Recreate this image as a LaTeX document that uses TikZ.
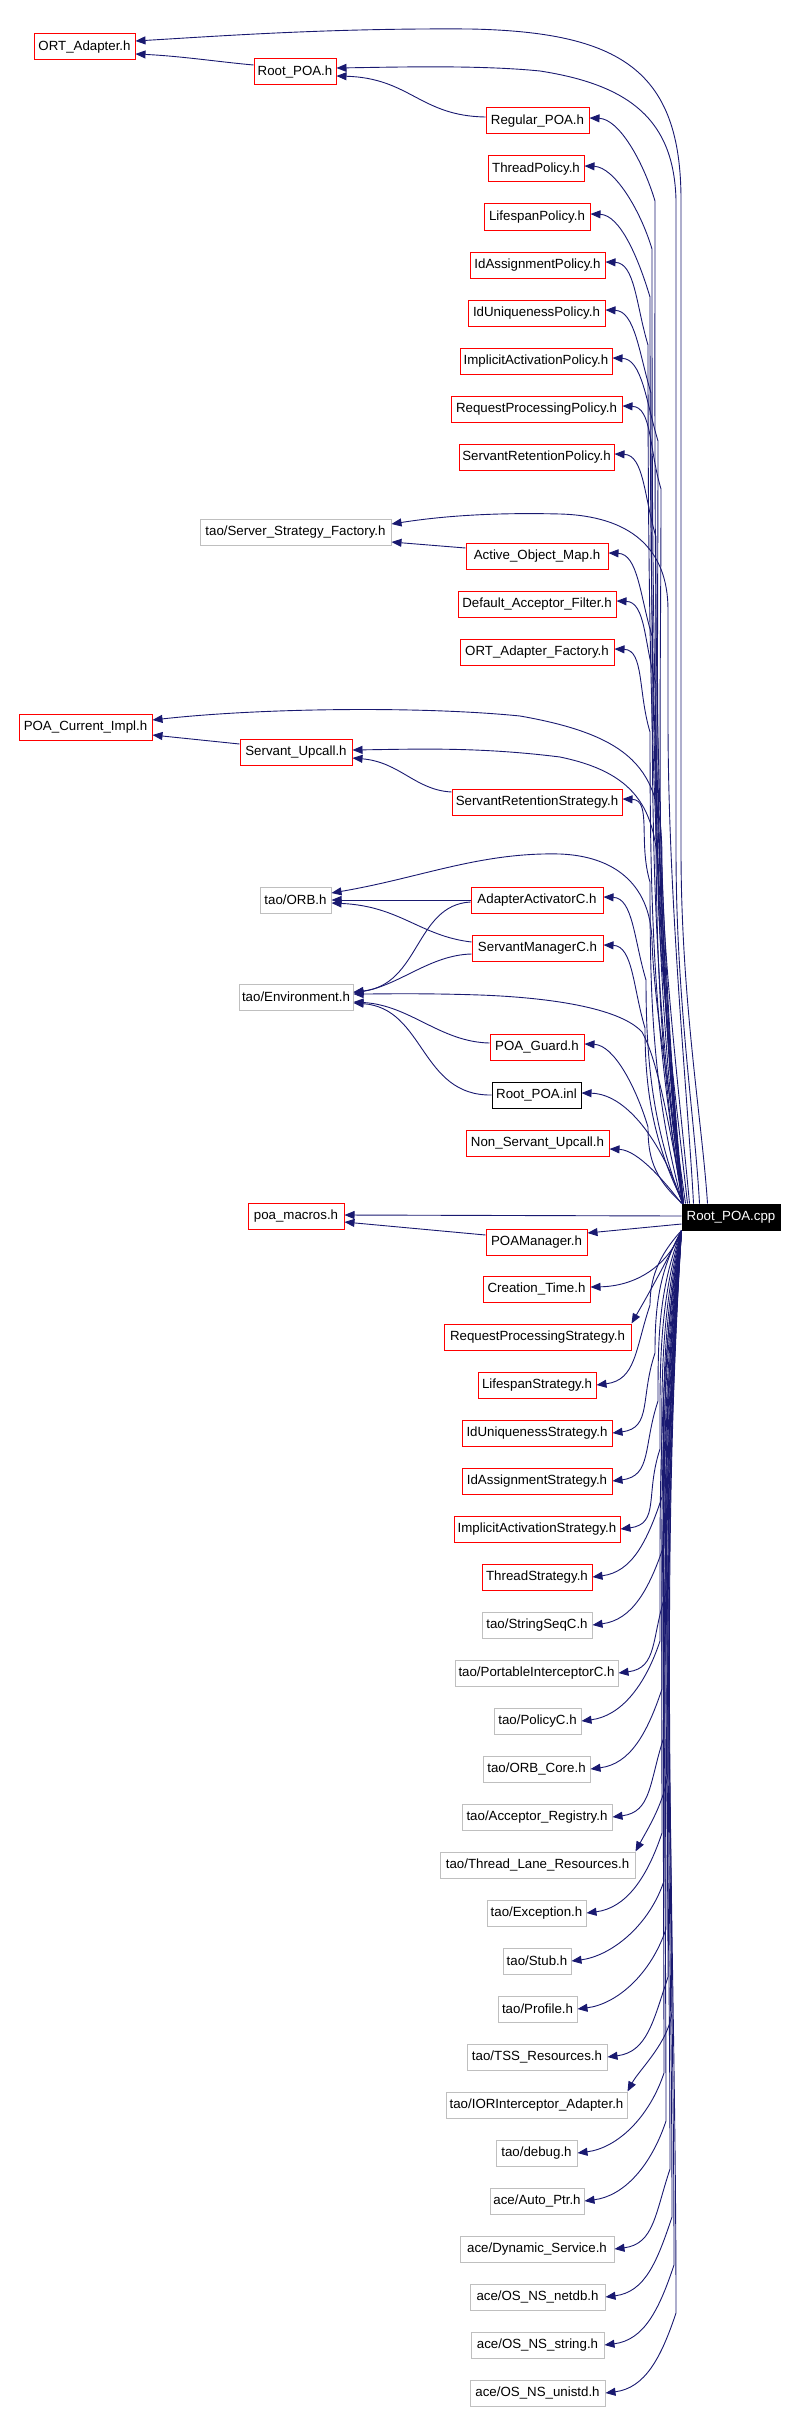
\documentclass[tikz,border=0pt]{standalone}
\usepackage{fontspec}
\setmainfont{Liberation Sans}
\usetikzlibrary{arrows.meta,calc}
\definecolor{edgeblue}{HTML}{191970}
\definecolor{boxgray}{HTML}{BFBFBF}
\tikzset{
 box/.style={draw, line width=1pt, minimum height=26pt, inner xsep=2pt, inner ysep=0pt, font=\fontsize{13.3}{15}\selectfont},
 rbox/.style={box, draw=red},
 gbox/.style={box, draw=boxgray},
 kbox/.style={box, draw=black},
 dep/.style={draw=edgeblue, line width=0.9pt, -{Triangle[length=10pt,width=8pt]}},
}
% upper right node: node, start xshift on cpp top, bend x, node y, node east x
\newcommand\upr[5]{%
 \pgfmathsetmacro\ua{#4+80}%
 \pgfmathsetmacro\ub{0.35*(1204-#4-80)}%
 \draw[dep] ([xshift=#2pt]cpp.north west) .. controls ({651+#2},{1204-\ub}) and (#3,{\ua+\ub}) .. (#3,\ua)
 .. controls ({#3-12},{#4+40}) and ({#5+30},{#4-2}) .. ([yshift=3pt]#1.east);}
% lower right node: node, bend x, node y, node east x
\newcommand\lowr[4]{%
 \pgfmathsetmacro\ua{#3-80}%
 \pgfmathsetmacro\ub{0.35*(#3-80-1230)}%
 \draw[dep] (cpp.south west) .. controls (658,{1230+\ub}) and (#2,{\ua-\ub}) .. (#2,\ua)
 .. controls ({#2-15},{#3-35}) and ({#4+40},{#3-5}) .. (#1.east);}
% lower wide node, arrow into top right corner: node, bend x, top y, east x
\newcommand\lowc[4]{%
 \pgfmathsetmacro\ua{#3-80}%
 \pgfmathsetmacro\ub{0.35*(#3-80-1230)}%
 \draw[dep] (cpp.south west) .. controls (658,{1230+\ub}) and (#2,{\ua-\ub}) .. (#2,\ua)
 .. controls ({#2-3},{#3-50}) and ({#4+12},{#3-22}) .. (#1.north east);}
\begin{document}
\begin{tikzpicture}[x=1pt,y=-1pt]
\useasboundingbox (0,0) rectangle (798,2411);
% left column
\node[rbox, minimum width=101pt] (ort) at (84.5,47) {ORT\_Adapter.h};
\node[rbox, minimum width=82pt] (rooth) at (295,72) {Root\_POA.h};
\node[gbox, minimum width=191pt] (ssf) at (295.5,532) {tao/Server\_Strategy\_Factory.h};
\node[rbox, minimum width=133pt] (pci) at (85.5,727) {POA\_Current\_Impl.h};
\node[rbox, minimum width=112pt] (su) at (296,752) {Servant\_Upcall.h};
\node[gbox, minimum width=71pt] (orb) at (295.5,900) {tao/ORB.h};
\node[gbox, minimum width=114pt] (env) at (296,997) {tao/Environment.h};
\node[rbox, minimum width=96pt] (pmac) at (296,1216) {poa\_macros.h};
% source
\node[box, draw=black, fill=black, text=white, minimum width=98pt] (cpp) at (731,1217) {Root\_POA.cpp};
% upper right column
\node[rbox, minimum width=103pt] (regular) at (537.5,121) {Regular\_POA.h};
\node[rbox, minimum width=96pt] (threadpol) at (536,169) {ThreadPolicy.h};
\node[rbox, minimum width=106pt] (lifepol) at (537,217) {LifespanPolicy.h};
\node[rbox, minimum width=135pt] (idasspol) at (537.5,265) {IdAssignmentPolicy.h};
\node[rbox, minimum width=137pt] (iduniqpol) at (536.5,313) {IdUniquenessPolicy.h};
\node[rbox, minimum width=152pt] (implpol) at (536,361) {ImplicitActivationPolicy.h};
\node[rbox, minimum width=171pt] (reqpol) at (536.5,409) {RequestProcessingPolicy.h};
\node[rbox, minimum width=155pt] (servretpol) at (536.5,457) {ServantRetentionPolicy.h};
\node[rbox, minimum width=142pt] (aom) at (537,556) {Active\_Object\_Map.h};
\node[rbox, minimum width=158pt] (daf) at (537,604) {Default\_Acceptor\_Filter.h};
\node[rbox, minimum width=154pt] (oaf) at (537,652) {ORT\_Adapter\_Factory.h};
\node[rbox, minimum width=170pt] (srs) at (537,802) {ServantRetentionStrategy.h};
\node[rbox, minimum width=132pt] (aac) at (537,900) {AdapterActivatorC.h};
\node[rbox, minimum width=131pt] (smc) at (537.5,948) {ServantManagerC.h};
\node[rbox, minimum width=94pt] (pguard) at (537,1047) {POA\_Guard.h};
\node[kbox, minimum width=89pt] (rpi) at (536.5,1095) {Root\_POA.inl};
\node[rbox, minimum width=143pt] (nsu) at (537.5,1143) {Non\_Servant\_Upcall.h};
% lower right column
\node[rbox, minimum width=101pt] (poamgr) at (536.5,1242) {POAManager.h};
\node[rbox, minimum width=107pt] (ctime) at (536.5,1289) {Creation\_Time.h};
\node[rbox, minimum width=187pt] (rps) at (537.5,1337) {RequestProcessingStrategy.h};
\node[rbox, minimum width=118pt] (lss) at (537,1385) {LifespanStrategy.h};
\node[rbox, minimum width=150pt] (ius) at (537,1433) {IdUniquenessStrategy.h};
\node[rbox, minimum width=150pt] (ias) at (537,1481) {IdAssignmentStrategy.h};
\node[rbox, minimum width=166pt] (iacs) at (537,1529) {ImplicitActivationStrategy.h};
\node[rbox, minimum width=110pt] (ts) at (537,1577) {ThreadStrategy.h};
\node[gbox, minimum width=110pt] (sseq) at (537,1625) {tao/StringSeqC.h};
\node[gbox, minimum width=163pt] (pic) at (536.5,1673) {tao/PortableInterceptorC.h};
\node[gbox, minimum width=87pt] (polc) at (537.5,1721) {tao/PolicyC.h};
\node[gbox, minimum width=107pt] (orbc) at (536.5,1769) {tao/ORB\_Core.h};
\node[gbox, minimum width=150pt] (accreg) at (537,1817) {tao/Acceptor\_Registry.h};
\node[gbox, minimum width=195pt] (tlr) at (537.5,1865) {tao/Thread\_Lane\_Resources.h};
\node[gbox, minimum width=99pt] (exc) at (536.5,1913) {tao/Exception.h};
\node[gbox, minimum width=68pt] (stub) at (537,1961) {tao/Stub.h};
\node[gbox, minimum width=79pt] (prof) at (537.5,2009) {tao/Profile.h};
\node[gbox, minimum width=140pt] (tss) at (537,2057) {tao/TSS\_Resources.h};
\node[gbox, minimum width=181pt] (iorint) at (536.5,2105) {tao/IORInterceptor\_Adapter.h};
\node[gbox, minimum width=81pt] (dbg) at (536.5,2153) {tao/debug.h};
\node[gbox, minimum width=94pt] (aptr) at (537,2201) {ace/Auto\_Ptr.h};
\node[gbox, minimum width=154pt] (dyns) at (537,2249) {ace/Dynamic\_Service.h};
\node[gbox, minimum width=135pt] (netdb) at (537.5,2297) {ace/OS\_NS\_netdb.h};
\node[gbox, minimum width=133pt] (nsstr) at (537.5,2345) {ace/OS\_NS\_string.h};
\node[gbox, minimum width=135pt] (unistd) at (537.5,2393) {ace/OS\_NS\_unistd.h};

% edges from Root_POA.cpp to far left nodes
\draw[dep] ([xshift=26pt]cpp.north west) .. controls (702,1120) and (681,1000) .. (681,850) -- (681,200) .. controls (681,70) and (620,32) .. (470,29) .. controls (330,28) and (220,36) .. ([yshift=6pt]ort.east);
\draw[dep] ([xshift=18pt]cpp.north west) .. controls (695,1120) and (676,1000) .. (676,850) -- (676,200) .. controls (674,120) and (630,85) .. (540,71) .. controls (480,65) and (400,67) .. ([yshift=4pt]rooth.east);
\draw[dep] ([xshift=12pt]cpp.north west) .. controls (688,1100) and (668,900) .. (668,720) -- (668,610) .. controls (668,548) and (630,516) .. (560,514) .. controls (480,512) and (430,518) .. ([yshift=8pt]ssf.east);
\draw[dep] ([xshift=8pt]cpp.north west) .. controls (680,1100) and (662,950) .. (662,860) .. controls (662,775) and (640,737) .. (520,716) .. controls (420,706) and (260,708) .. ([yshift=7pt]pci.east);
\draw[dep] ([xshift=6pt]cpp.north west) .. controls (676,1100) and (658,960) .. (658,880) .. controls (658,805) and (632,772) .. (560,757) .. controls (480,747) and (420,749) .. ([yshift=2pt]su.east);
\draw[dep] ([xshift=4pt]cpp.north west) .. controls (674,1120) and (654,1010) .. (652,940) .. controls (650,882) and (612,856) .. (560,854) .. controls (480,852) and (420,878) .. ([yshift=7pt]orb.east);
\draw[dep] ([xshift=2pt]cpp.north west) .. controls (670,1130) and (658,1060) .. (642,1032) .. controls (622,1010) and (560,998) .. (480,995) .. controls (420,993) and (380,994) .. ([yshift=3pt]env.east);
\draw[dep] ([yshift=1pt]cpp.west) -- ([yshift=1pt]pmac.east);
\draw[dep] ([yshift=-7pt]cpp.west) -- ([yshift=9pt]poamgr.east);

% edges from Root_POA.cpp to upper right column
\upr{regular}{1}{655}{121}{589}
\upr{threadpol}{1}{652}{169}{584}
\upr{lifepol}{2}{650}{217}{590}
\upr{idasspol}{1}{648}{265}{605}
\upr{iduniqpol}{2}{651}{313}{605}
\upr{implpol}{1}{658}{361}{612}
\upr{reqpol}{2}{661}{409}{622}
\upr{servretpol}{1}{656}{457}{614}
\upr{aom}{2}{652}{556}{608}
\upr{daf}{1}{656}{604}{616}
\upr{oaf}{2}{650}{652}{614}
\upr{srs}{1}{650}{802}{622}
\upr{aac}{1}{646}{900}{603}
\upr{smc}{2}{645}{948}{603}
\upr{pguard}{1}{648}{1047}{584}
\draw[dep] ([xshift=1pt]cpp.north west) .. controls (665,1150) and (630,1094) .. ([yshift=2pt]rpi.east);
\draw[dep] (cpp.north west) .. controls (665,1182) and (638,1150) .. ([yshift=-6pt]nsu.east);

% edges from Root_POA.cpp to lower right column
\draw[dep] (cpp.south west) .. controls (670,1262) and (640,1286) .. ([yshift=2pt]ctime.east);
\draw[dep] (cpp.south west) .. controls (665,1265) and (645,1300) .. (rps.north east);
\lowr{lss}{650}{1385}{596}
\lowr{ius}{655}{1433}{612}
\lowr{ias}{658}{1481}{612}
\lowr{iacs}{660}{1529}{620}
\lowr{ts}{662}{1577}{592}
\lowr{sseq}{664}{1625}{592}
\lowr{pic}{666}{1673}{618}
\lowr{polc}{660}{1721}{581}
\lowr{orbc}{662}{1769}{590}
\lowr{accreg}{664}{1817}{612}
\lowc{tlr}{668}{1852}{635}
\lowr{exc}{662}{1913}{586}
\lowr{stub}{664}{1961}{571}
\lowr{prof}{666}{2009}{577}
\lowr{tss}{668}{2057}{607}
\lowc{iorint}{672}{2092}{627}
\lowr{dbg}{664}{2153}{577}
\lowr{aptr}{666}{2201}{584}
\lowr{dyns}{670}{2249}{614}
\lowr{netdb}{672}{2297}{605}
\lowr{nsstr}{674}{2345}{604}
\lowr{unistd}{676}{2393}{605}

% edges between headers
\draw[dep] ([yshift=7pt]rooth.west) .. controls (220,62) and (180,56) .. ([yshift=-7pt]ort.east);
\draw[dep] ([yshift=4pt]regular.west) .. controls (420,116) and (410,78) .. ([yshift=-4pt]rooth.east);
\draw[dep] ([yshift=8pt]aom.west) -- ([yshift=-10pt]ssf.east);
\draw[dep] ([yshift=8pt]su.west) -- ([yshift=-8pt]pci.east);
\draw[dep] ([yshift=10pt]srs.west) .. controls (415,790) and (400,762) .. ([yshift=-6pt]su.east);
\draw[dep] (aac.west) -- (orb.east);
\draw[dep] ([yshift=6pt]smc.west) .. controls (420,936) and (400,906) .. ([yshift=-3pt]orb.east);
\draw[dep] ([yshift=-2pt]aac.west) .. controls (415,905) and (420,985) .. ([yshift=5pt]env.east);
\draw[dep] ([yshift=-6pt]smc.west) .. controls (430,955) and (400,985) .. ([yshift=4pt]env.east);
\draw[dep] ([yshift=4pt]pguard.west) .. controls (440,1042) and (410,1005) .. ([yshift=-5pt]env.east);
\draw[dep] (rpi.west) .. controls (420,1096) and (425,1008) .. ([yshift=-6pt]env.east);
\draw[dep] ([yshift=7pt]poamgr.west) -- ([yshift=-6pt]pmac.east);
\end{tikzpicture}
\end{document}
